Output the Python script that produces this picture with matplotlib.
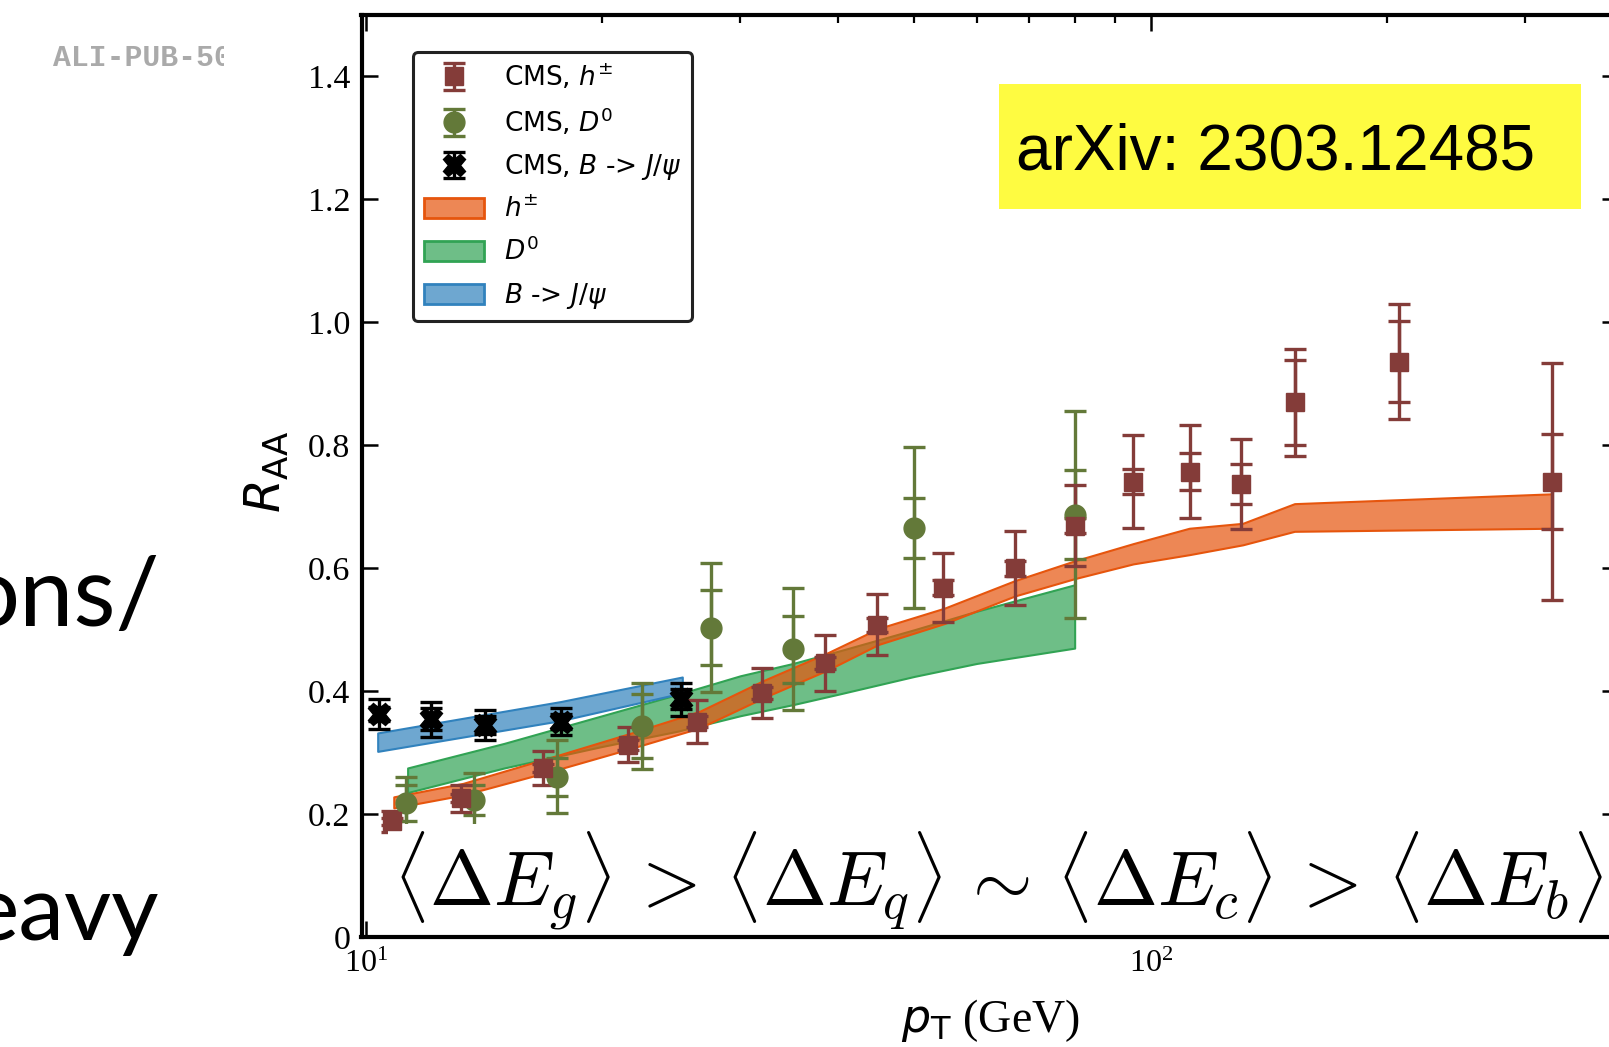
import matplotlib
matplotlib.use("Agg")
import matplotlib.pyplot as plt
from matplotlib.colors import to_rgba
from matplotlib.patches import Rectangle, Patch
from matplotlib.ticker import FixedLocator, FuncFormatter, NullLocator, LogLocator
from matplotlib.transforms import Bbox, TransformedBbox

plt.rcParams["font.family"] = "Liberation Serif"
plt.rcParams["mathtext.fontset"] = "dejavusans"

# CMS charged hadrons
pt_h = [10.8, 13.2, 16.8, 21.6, 26.4, 32.0, 38.4, 44.8, 54.4, 67.2, 80.0, 95.0, 112.2, 130.4, 152.5, 207.5, 325.0]
raa_h = [0.188, 0.226, 0.275, 0.313, 0.350, 0.397, 0.446, 0.508, 0.568, 0.600, 0.669, 0.741, 0.757, 0.737, 0.870, 0.936, 0.741]
syst_h = [0.017, 0.022, 0.027, 0.029, 0.035, 0.040, 0.045, 0.050, 0.056, 0.060, 0.066, 0.075, 0.076, 0.073, 0.087, 0.094, 0.193]
stat_h = [0.005, 0.006, 0.007, 0.008, 0.009, 0.010, 0.010, 0.011, 0.012, 0.012, 0.012, 0.020, 0.030, 0.033, 0.069, 0.066, 0.077]

# CMS D0
pt_d = [11.25, 13.75, 17.5, 22.5, 27.5, 35.0, 50.0, 80.0]
raa_d = [0.218, 0.223, 0.261, 0.344, 0.503, 0.468, 0.666, 0.687]
syst_d = [0.043, 0.043, 0.060, 0.070, 0.105, 0.099, 0.131, 0.168]
stat_d = [0.030, 0.024, 0.031, 0.052, 0.061, 0.054, 0.049, 0.072]

# CMS B -> J/psi
pt_b = [10.4, 12.1, 14.2, 17.7, 25.2]
raa_b = [0.363, 0.354, 0.345, 0.350, 0.387]
syst_b = [0.024, 0.028, 0.024, 0.022, 0.027]
stat_b = [0.012, 0.018, 0.014, 0.012, 0.016]

# model bands
band_h_pt = [10.85, 13.3, 17.6, 21.8, 26.6, 32.2, 38.7, 45.0, 54.6, 67.2, 80.0, 95.0, 112.0, 131.0, 152.5, 325.0]
band_h_lo = [0.210, 0.231, 0.273, 0.307, 0.340, 0.390, 0.434, 0.476, 0.510, 0.555, 0.583, 0.607, 0.622, 0.638, 0.660, 0.665]
band_h_hi = [0.228, 0.250, 0.296, 0.332, 0.367, 0.418, 0.462, 0.502, 0.535, 0.580, 0.612, 0.640, 0.665, 0.673, 0.705, 0.721]

band_d_pt = [11.3, 15.0, 20.0, 25.0, 30.0, 35.0, 40.0, 50.0, 60.0, 80.0]
band_d_lo = [0.235, 0.275, 0.310, 0.335, 0.360, 0.378, 0.395, 0.424, 0.445, 0.470]
band_d_hi = [0.275, 0.315, 0.360, 0.395, 0.425, 0.445, 0.465, 0.500, 0.530, 0.573]

band_b_pt = [10.35, 17.7, 25.3]
band_b_lo = [0.302, 0.352, 0.397]
band_b_hi = [0.332, 0.383, 0.423]

yticks = [0, 0.2, 0.4, 0.6, 0.8, 1.0, 1.2, 1.4]

W, H = 1609, 1047


def fx(px):
    return px / W


def fy(py):
    return 1 - py / H


fig = plt.figure(figsize=(W / 100, H / 100), dpi=100)
ax = fig.add_axes([fx(361.5), fy(937), (1618 - 361.5) / W, (937 - 15) / H])

c_h, c_d, c_b = "#e6550d", "#31a354", "#3182bd"
ax.fill_between(band_d_pt, band_d_lo, band_d_hi, facecolor=to_rgba(c_d, 0.7), edgecolor=c_d, lw=1.5, zorder=1)
ax.fill_between(band_h_pt, band_h_lo, band_h_hi, facecolor=to_rgba(c_h, 0.7), edgecolor=c_h, lw=1.5, zorder=1)
ax.fill_between(band_b_pt, band_b_lo, band_b_hi, facecolor=to_rgba(c_b, 0.7), edgecolor=c_b, lw=1.5, zorder=1)

eb = dict(elinewidth=2.4, capsize=8, capthick=2.4, linestyle="none")
col_h, col_d = "#843c39", "#637939"
ed = ax.errorbar(pt_d, raa_d, yerr=syst_d, marker="o", ms=15, color=col_d, **eb)
ax.errorbar(pt_d, raa_d, yerr=stat_d, fmt="none", ecolor=col_d, **eb)
eh = ax.errorbar(pt_h, raa_h, yerr=syst_h, marker="s", ms=12.5, color=col_h, **eb)
ax.errorbar(pt_h, raa_h, yerr=stat_h, fmt="none", ecolor=col_h, **eb)
ebj = ax.errorbar(pt_b, raa_b, yerr=syst_b, marker="X", ms=16, color="black", **eb)
ax.errorbar(pt_b, raa_b, yerr=stat_b, fmt="none", ecolor="black", **eb)

ax.set_xscale("log")
ax.set_xlim(9.87, 394)
ax.set_ylim(0, 1.5)
ax.yaxis.set_major_locator(FixedLocator(yticks))
ax.yaxis.set_major_formatter(FuncFormatter(lambda v, p: "0" if v == 0 else f"{v:.1f}"))
ax.yaxis.set_minor_locator(NullLocator())
ax.xaxis.set_major_locator(LogLocator(base=10))
ax.tick_params(which="both", direction="in", top=True, right=True)
ax.tick_params(which="major", length=11.5, width=1.8)
ax.tick_params(which="minor", length=5.5, width=1.6)
ax.tick_params(axis="y", labelsize=24.5, pad=8)
ax.tick_params(axis="x", labelsize=23, pad=9)
for sp in ax.spines.values():
    sp.set_linewidth(3.0)

handles = [
    eh,
    ed,
    ebj,
    Patch(facecolor=to_rgba(c_h, 0.7), edgecolor=c_h, lw=2),
    Patch(facecolor=to_rgba(c_d, 0.7), edgecolor=c_d, lw=2),
    Patch(facecolor=to_rgba(c_b, 0.7), edgecolor=c_b, lw=2),
]
labels = [r"CMS, $h^{\pm}$", r"CMS, $D^{0}$", r"CMS, $B$ -> $J/\psi$",
          r"$h^{\pm}$", r"$D^{0}$", r"$B$ -> $J/\psi$"]
leg = ax.legend(handles, labels, loc="upper left", bbox_to_anchor=(fx(413), fy(52)),
                bbox_transform=fig.transFigure, borderaxespad=0, prop={"family": "DejaVu Sans", "size": 19},
                handlelength=2.3, handleheight=0.8, handletextpad=0.75, labelspacing=0.55,
                borderpad=0.4, fancybox=True, framealpha=1)
leg.get_frame().set_linewidth(2.2)
leg.get_frame().set_edgecolor("#222222")

ax.text(fx(998), fy(906),
        r"$\langle\Delta E_g\rangle\,>\,\langle\Delta E_q\rangle\,\sim\,\langle\Delta E_c\rangle\,>\,\langle\Delta E_b\rangle$",
        transform=fig.transFigure, ha="center", va="baseline", fontsize=55.3, math_fontfamily="cm",
        zorder=2, bbox=dict(fc="white", ec="none", pad=4))

fig.text(fx(267), fy(472), r"$R_{\rm AA}$", rotation=90, ha="center", va="center", fontsize=35)
fig.text(fx(990), fy(1020), r"$p_{\rm T}$ (GeV)", ha="center", va="center", fontsize=33)

fig.patches.append(Rectangle((fx(999), fy(209)), (1581 - 999) / W, (209 - 84) / H,
                             transform=fig.transFigure, fc="#fefb41", ec="none", zorder=1))
fig.text(fx(1016), fy(170), "arXiv: 2303.12485", family="Liberation Sans", fontsize=46, va="baseline")

t = fig.text(fx(53), fy(66), "ALI-PUB-50", family="Liberation Mono", weight="bold",
             color="#aaaaaa", fontsize=21.4, va="baseline")
t.set_clip_box(TransformedBbox(Bbox.from_extents(0, 0, fx(224), 1), fig.transFigure))
t.set_clip_on(True)

fig.text(fx(160), fy(626), "ons/", family="Lato", fontsize=70, ha="right", va="baseline")
fig.text(fx(159), fy(940), "eavy", family="Lato", fontsize=66, ha="right", va="baseline")

fig.savefig("out.png", dpi=100)
